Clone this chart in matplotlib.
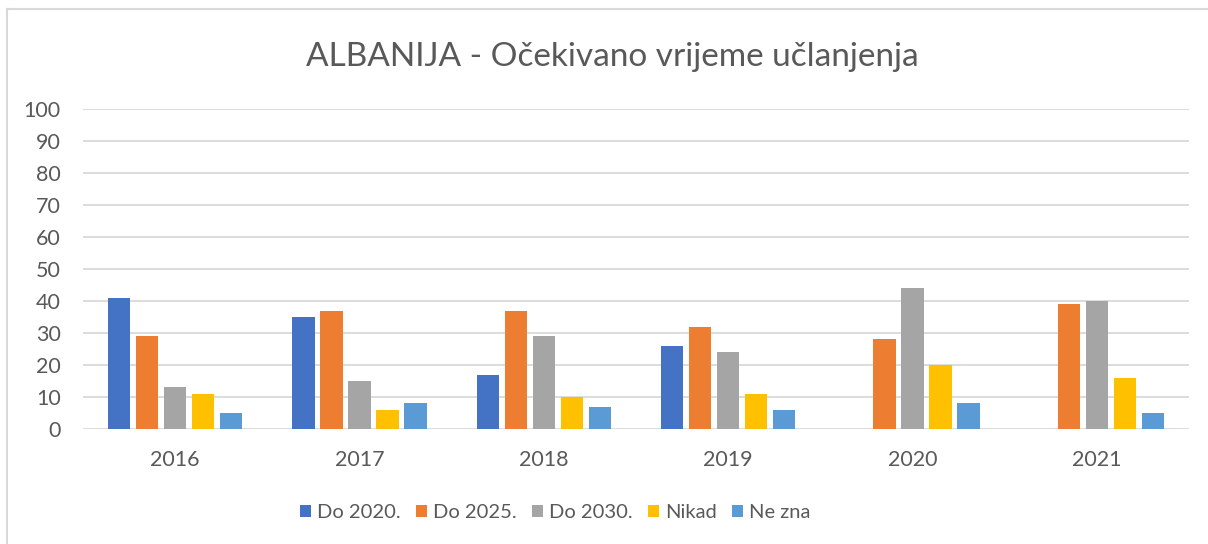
import matplotlib
matplotlib.use("Agg")
import matplotlib.pyplot as plt
import numpy as np
from matplotlib.lines import Line2D

years = ["2016", "2017", "2018", "2019", "2020", "2021"]
series_names = ["Do 2020.", "Do 2025.", "Do 2030.", "Nikad", "Ne zna"]
do_2020 = [41, 35, 17, 26, 0, 0]
do_2025 = [29, 37, 37, 32, 28, 39]
do_2030 = [13, 15, 29, 24, 44, 40]
nikad = [11, 6, 10, 11, 20, 16]
ne_zna = [5, 8, 7, 6, 8, 5]
colors = ["#4472C4", "#ED7D31", "#A5A5A5", "#FFC000", "#5B9BD5"]
yticks = [0, 10, 20, 30, 40, 50, 60, 70, 80, 90, 100]

plt.rcParams['font.family'] = ['Lato', 'DejaVu Sans']

fig = plt.figure(figsize=(12.08, 5.44), dpi=100)
ax = fig.add_axes([83/1208, 1-429/544, (1189-83)/1208, 320/544])

x = np.arange(len(years))
step = 0.152
width = 0.12
data = [do_2020, do_2025, do_2030, nikad, ne_zna]
for i, (vals, name, c) in enumerate(zip(data, series_names, colors)):
    ax.bar(x + (i - 2) * step, vals, width, color=c, label=name, zorder=3)

ax.set_xlim(-0.5, len(years) - 0.5)
ax.set_ylim(0, 100)
ax.set_yticks(yticks)
ax.set_xticks(x)
ax.set_xticklabels(years)
ax.yaxis.grid(True, color="#D9D9D9", linewidth=1.3, zorder=0)
ax.tick_params(axis='both', length=0, labelsize=15.5, labelcolor="#595959")
ax.tick_params(axis='y', pad=16)
ax.tick_params(axis='x', pad=15)
for s in ax.spines.values():
    s.set_visible(False)

fig.text(612/1208, 1-57/544, "ALBANIJA - Očekivano vrijeme učlanjenja",
         ha='center', va='center', fontsize=24, color="#595959")

leg = fig.legend(loc='center', bbox_to_anchor=(555/1208, 1-513/544), ncol=5,
                 frameon=False, fontsize=14.5, handlelength=0.55, handleheight=0.55,
                 handletextpad=0.3, columnspacing=0.75)
for t in leg.get_texts():
    t.set_color("#595959")

# outer chart border (left and top visible)
fig.add_artist(Line2D([7/1208, 7/1208], [0, 1-9/544], color="#D9D9D9", linewidth=1.5, transform=fig.transFigure))
fig.add_artist(Line2D([7/1208, 1], [1-9/544, 1-9/544], color="#D9D9D9", linewidth=1.5, transform=fig.transFigure))

fig.savefig("out.png", dpi=100)
